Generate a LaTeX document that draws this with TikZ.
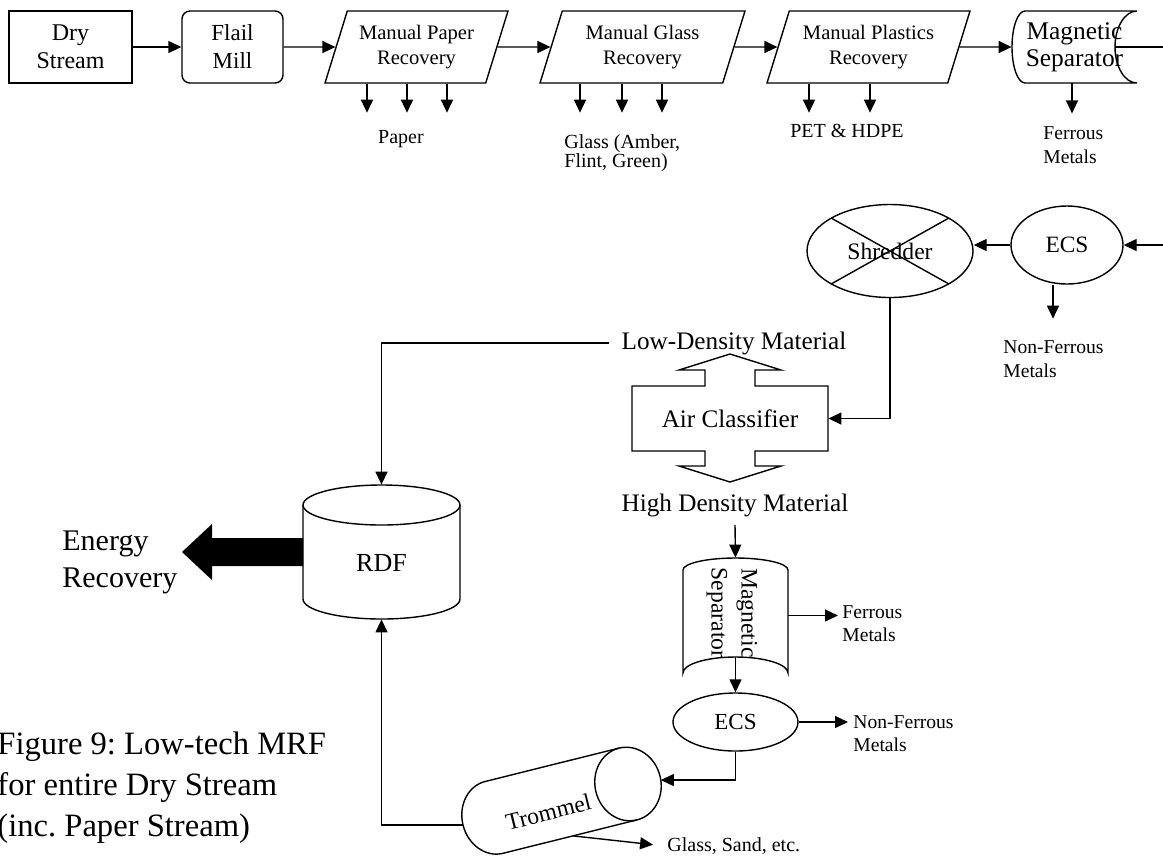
\documentclass[tikz,border=0pt]{standalone}
\usepackage{fontspec}
\setmainfont{Liberation Serif}
\usetikzlibrary{arrows.meta,shapes.geometric,calc}
\newcommand\fsz[2]{\fontsize{#1}{#2}\selectfont}
\frenchspacing

\begin{document}
\begin{tikzpicture}[x=0.5pt,y=-0.5pt,
  ln/.style={line width=0.7pt},
  arr/.style={ln,-{Triangle[length=6.5pt,width=6pt]}},
  box/.style={draw,ln,align=center,inner sep=0pt},
  para/.style={box,trapezium,trapezium left angle=63,trapezium right angle=117,
    trapezium stretches body,minimum height=36pt,font=\fsz{10.3}{12.5}},
  oval/.style={draw,ln,ellipse,inner sep=0pt},
  lbl/.style={inner sep=1pt,font=\fsz{10}{11.5}},
  ghost/.style={inner sep=0pt}]

\useasboundingbox (0,0) rectangle (1163,859);
\fill[white] (0,0) rectangle (1163,859);

% ---------------- top row ----------------
\node[box,minimum width=61.5pt,minimum height=36pt,font=\fsz{12}{14}] (dry) at (70.5,47) {Dry\\Stream};
\node[box,rounded corners=4pt,minimum width=50.5pt,minimum height=36pt,font=\fsz{11.5}{14}] (flail) at (232.5,47) {Flail\\Mill};
\node[para,minimum width=91.5pt] (paper) at (416.5,47) {Manual Paper\\Recovery};
\node[para,minimum width=102.5pt] (glass) at (642.5,47) {Manual Glass\\Recovery};
\node[para,minimum width=101.5pt] (plastics) at (868.5,47) {Manual Plastics\\Recovery};

% magnetic separator (drum shape)
\node[ghost,minimum width=62.5pt,minimum height=36pt,align=center,font=\fsz{12.7}{13.5}] (ms1) at (1074.5,47) {Magnetic\\Separator};
\draw[ln] (1025,11) -- (1137,11)
  .. controls (1124.85,11) and (1115,27.1) .. (1115,47)
  .. controls (1115,66.9) and (1124.85,83) .. (1137,83)
  -- (1025,83)
  .. controls (1017.8,83) and (1012,66.9) .. (1012,47)
  .. controls (1012,27.1) and (1017.8,11) .. cycle;

\draw[arr] (dry.east) -- (flail.west);
\draw[arr] (flail.east) -- (paper.west);
\draw[arr] (paper.east) -- (glass.west);
\draw[arr] (glass.east) -- (plastics.west);
\draw[arr] (plastics.east) -- (ms1.west);

% recovered fractions
\foreach \dx in {-24.75,-4.75,15.25} \draw[arr] ([xshift=\dx pt]paper.south) -- ++(0,29);
\foreach \dx in {-31.25,-10.25,9.75} \draw[arr] ([xshift=\dx pt]glass.south) -- ++(0,29);
\foreach \dx in {-29.75,0.75} \draw[arr] ([xshift=\dx pt]plastics.south) -- ++(0,29);
\draw[arr] ([xshift=-1.25pt]ms1.south) -- ++(0,30);

\node[lbl] (paperlbl) at (401,139) {Paper};
\node[lbl,anchor=west,align=left,font=\fsz{10}{9.8}] (glasslbl) at (562,153) {Glass (Amber,\\Flint, Green)};
\node[lbl] (petlbl) at (847,131) {PET \& HDPE};
\node[lbl,anchor=west,align=left,font=\fsz{9.8}{12}] (fe1) at (1041,145) {Ferrous\\Metals};

% ---------------- eddy current + shredder ----------------
\node[oval,minimum width=56pt,minimum height=39pt,font=\fsz{11.7}{14}] (ecs1) at (1067,245) {ECS};
\node[oval,minimum width=83pt,minimum height=46.5pt,font=\fsz{11.8}{14},
  path picture={\draw[ln] (path picture bounding box.north west) -- (path picture bounding box.south east)
                          (path picture bounding box.south west) -- (path picture bounding box.north east);}]
  (shred) at (890,251) {Shredder};

\draw[arr] ([xshift=-11pt]ms1.east) -- ++(48,0) |- (ecs1.east);
\draw[arr] (ecs1.west) -- (ecs1.west -| shred.east);
\draw[arr] ([xshift=-7pt]ecs1.south) -- ++(0,34);
\node[lbl,anchor=west,align=left,font=\fsz{9.8}{12}] (nf1) at (1001,359) {Non-Ferrous\\Metals};

% ---------------- air classifier ----------------
\node[ghost,minimum width=98pt,minimum height=32.5pt,font=\fsz{12.6}{14}] (ac) at (730,418.5) {Air Classifier};
\draw[ln] (632,386) -- (705,386) -- (705,370) -- (679,370) -- (730,354) -- (781,370) -- (755,370) -- (755,386)
  -- (828,386) -- (828,451) -- (755,451) -- (755,466) -- (781,466) -- (730,482) -- (679,466) -- (705,466)
  -- (705,451) -- (632,451) -- cycle;
\draw[arr] (shred.south) |- (ac.east);

\node[ghost,font=\fsz{12.6}{14}] (ldm) at (734,343) {Low-Density Material};
\node[ghost,font=\fsz{12.6}{14}] (hdm) at (735,505) {High Density Material};

% ---------------- RDF store ----------------
\node[ghost,minimum width=78.5pt,minimum height=67pt] (rdf) at (381.5,552) {};
\draw[ln] (303,505) -- (303,599) arc[start angle=180,end angle=360,x radius=39.25pt,y radius=10pt] -- (460,505);
\draw[ln] (381.5,505) ellipse [x radius=39.25pt,y radius=10pt];
\node[font=\fsz{13}{14}] (rdflabel) at (381.5,563) {RDF};
\draw[arr] ([xshift=-6pt]ldm.west) -| (rdf.north);

\fill (303,538) -- (212,538) -- (212,524) -- (182,552) -- (212,580) -- (212,566) -- (303,566) -- cycle;
\node[ghost,anchor=west,align=left,font=\fsz{15}{18.5}] (energy) at (62,562) {Energy\\Recovery};

% ---------------- high density line ----------------
\node[ghost,minimum width=52.5pt,minimum height=57.5pt] (ms2) at (735.5,615.5) {};
\draw[ln] (683,570) .. controls (683,563.4) and (706.5,558) .. (735.5,558)
  .. controls (764.5,558) and (788,563.4) .. (788,570) -- (788,673)
  .. controls (788,664.2) and (764.5,657) .. (735.5,657)
  .. controls (706.5,657) and (683,664.2) .. (683,673) -- cycle;
\node[rotate=-90,align=center,inner sep=0pt,font=\fsz{11.8}{15}] (ms2label) at (732,613) {Magnetic\\Separator};
\draw[arr] ([yshift=-4pt]hdm.south) -- (ms2.north);

\node[lbl,anchor=west,align=left,font=\fsz{9.8}{11.5}] (fe2) at (840,623.5) {Ferrous\\Metals};
\draw[arr,shorten >=1pt] (ms2.east) -- (ms2.east -| fe2.west);

\node[oval,minimum width=62.5pt,minimum height=29pt,font=\fsz{11.5}{14}] (ecs2) at (735.5,722) {ECS};
\draw[arr] ([yshift=8pt]ms2.south) -- (ecs2.north);
\node[lbl,anchor=west,align=left,font=\fsz{9.8}{11.5}] (nf2) at (851,733.5) {Non-Ferrous\\Metals};
\draw[arr,shorten >=1.5pt] (ecs2.east) -- (ecs2.east -| nf2.west);

% ---------------- trommel ----------------
\begin{scope}[shift={(628,784)},rotate=14]
  \draw[ln] (0,-37) -- (-138,-37)
    .. controls (-155.7,-37) and (-170,-20.4) .. (-170,0)
    .. controls (-170,20.4) and (-155.7,37) .. (-138,37) -- (0,37);
  \draw[ln] (0,0) ellipse [x radius=16.5pt,y radius=18.5pt];
  \node[rotate=14,inner sep=0pt,font=\fsz{11.8}{14}] (trommel) at (-84,8) {Trommel};
  \coordinate (tromin) at (32.8,4.1);
  \coordinate (tromleft) at (-170,0);
  \coordinate (tromout) at (-66,37);
\end{scope}
\draw[arr] (ecs2.south) |- (tromin);
\draw[arr] (tromleft) -| (rdf.south);
\node[lbl,anchor=west] (gse) at (665,846) {Glass, Sand, etc.};
\draw[arr,shorten >=6pt] (tromout) -- (gse.west);

% ---------------- caption ----------------
\node[ghost,anchor=west,align=left,font=\fsz{16.3}{20.5}] (caption) at (-3,788)
  {Figure 9: Low-tech MRF\\for entire Dry Stream\\(inc. Paper Stream)};
\end{tikzpicture}
\end{document}
